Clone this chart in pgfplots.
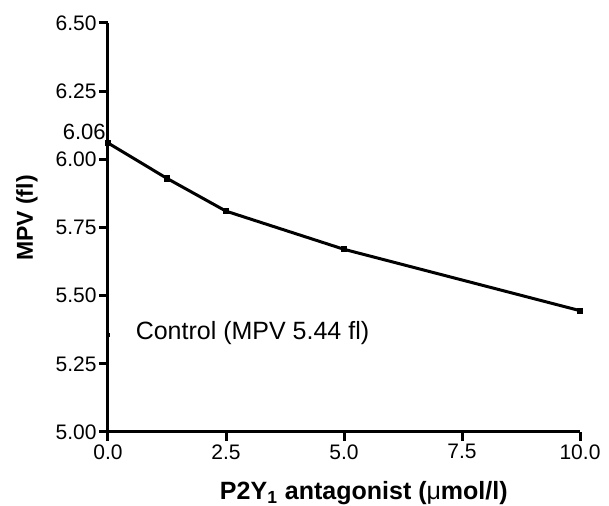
\documentclass[border=0pt]{standalone}
\usepackage{fontspec}
\setmainfont{Liberation Sans}
\usepackage{pgfplots}
\pgfplotsset{compat=1.18}
\begin{document}
\begin{tikzpicture}
\path[use as bounding box] (-54pt,-37pt) rectangle (250.5pt,216pt);
\begin{axis}[
  scale only axis, width=236pt, height=204.5pt,
  xmin=0, xmax=10, ymin=5, ymax=6.5,
  axis x line*=bottom, axis y line*=left,
  axis line style={line width=1.5pt},
  xtick={0,2.5,5,7.5,10},
  ytick={5,5.25,5.5,5.75,6,6.25,6.5},
  tick align=outside, major tick length=4.5pt,
  tick style={line width=1.5pt, black},
  /pgf/number format/assume math mode=true,
  xticklabel style={font=\fontsize{10.5}{12}\selectfont, inner sep=1.5pt,
    /pgf/number format/fixed, /pgf/number format/fixed zerofill,
    /pgf/number format/precision=1},
  yticklabel style={font=\fontsize{10.5}{12}\selectfont, inner sep=1pt,
    /pgf/number format/fixed, /pgf/number format/fixed zerofill,
    /pgf/number format/precision=2},
  xlabel={P2Y\textsubscript{1} antagonist ({\mdseries μ}mol/l)},
  ylabel={MPV (fl)},
  xlabel style={font=\fontsize{12.5}{14}\selectfont\bfseries,
    at={(axis description cs:0.542,0)}, anchor=base, yshift=-34pt},
  ylabel style={font=\fontsize{11.5}{13}\selectfont\bfseries,
    at={([xshift=-40.5pt]axis description cs:0,0.523)}, anchor=center},
  clip=false,
]
% MPV vs antagonist concentration
\addplot[black, line width=1.5pt, mark=square*, mark size=0.8pt] coordinates {
  (0,6.06) (1.25,5.93) (2.5,5.81) (5,5.67) (10,5.445)
};
% control
\addplot[black, only marks, mark=square*, mark size=0.8pt] coordinates {
  (0,5.356)
};
\node[anchor=east, inner sep=1pt, font=\fontsize{11}{13}\selectfont]
  at (axis cs:0,6.10) {6.06};
\node[anchor=west, inner sep=0pt, font=\fontsize{12.5}{14}\selectfont]
  at (axis cs:0.58,5.363) {Control (MPV 5.44 fl)};
\end{axis}
\end{tikzpicture}
\end{document}
